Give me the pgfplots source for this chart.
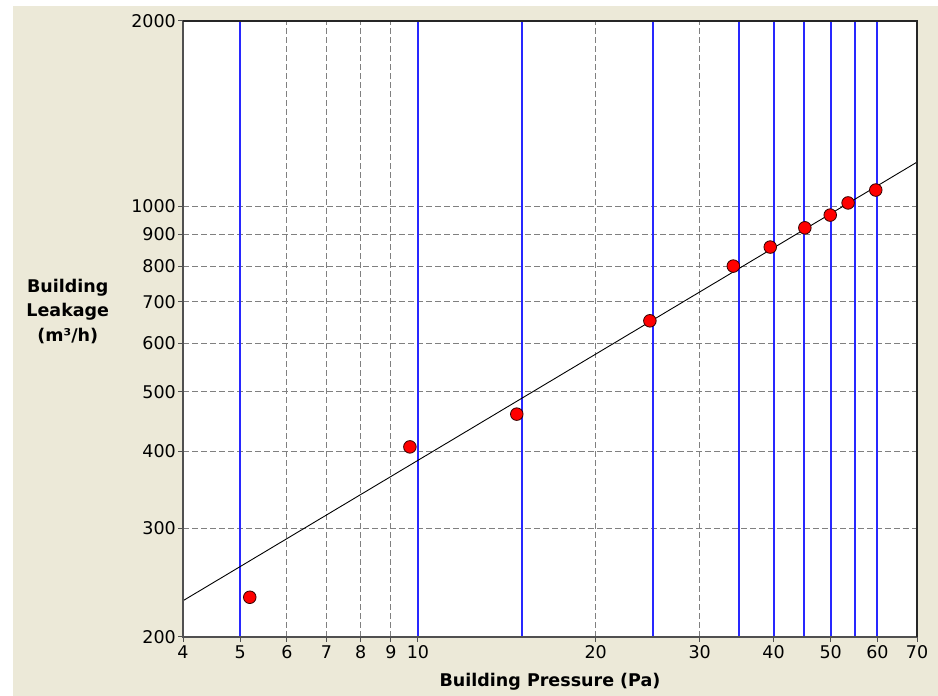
\documentclass[border=0pt]{standalone}
\usepackage{pgfplots}
\pgfplotsset{compat=1.18}
\usepackage{fontspec}
\setmainfont{DejaVu Sans}
\definecolor{bg}{RGB}{236,233,216}
\definecolor{gridgray}{RGB}{128,128,128}
\definecolor{lineblue}{RGB}{40,40,255}
\definecolor{axisgray}{RGB}{80,80,80}
\begin{document}
\begin{tikzpicture}
\fill[white] (0,0) rectangle (938pt,696pt);
\fill[bg] (13pt,0) rectangle (938pt,690pt);
\useasboundingbox (0,0) rectangle (938pt,696pt);
\begin{axis}[
  at={(183pt,59pt)}, anchor=south west,
  scale only axis, width=734pt, height=616pt,
  xmode=log, ymode=log,
  xmin=4, xmax=70, ymin=200, ymax=2000,
  clip=false,
  xtick={4,5,6,7,8,9,10,20,30,40,50,60,70},
  xticklabels={4,5,6,7,8,9,10,20,30,40,50,60,70},
  ytick={200,300,400,500,600,700,800,900,1000,2000},
  yticklabels={200,300,400,500,600,700,800,900,1000,2000},
  minor xtick={}, minor ytick={},
  tick align=outside, major tick length=5pt,
  xtick pos=bottom, ytick pos=left,
  tick style={axisgray, line width=1pt},
  ticklabel style={font=\fontsize{17.5}{20}\selectfont, text=black},
  yticklabel style={inner sep=2pt},
  ymajorgrids=true, xmajorgrids=false,
  major grid style={gridgray, dash pattern=on 6pt off 3pt, line width=1pt},
  axis line style={draw=none},
  axis background/.style={fill=white},
  xlabel={Building Pressure (Pa)},
  every axis x label/.style={at={(rel axis cs:0.5,0)}, yshift=-44.5pt, anchor=center,
    font=\bfseries\fontsize{17.5}{20}\selectfont},
  ylabel={Building\\Leakage\\(m³/h)},
  every axis y label/.style={at={(rel axis cs:-0.157,0.529)}, anchor=center, align=center,
    font=\bfseries\fontsize{17.5}{24.5}\selectfont},
]
% dashed vertical grid lines (those not covered by blue lines)
\pgfplotsinvokeforeach{6,7,8,9,20,30}{
  \addplot[draw=gridgray, dash pattern=on 6pt off 3pt, line width=1pt, forget plot]
    coordinates {(#1,200) (#1,2000)};
}
% blue vertical lines
\pgfplotsinvokeforeach{5,10,15,25,35,40,45,50,55,60}{
  \addplot[draw=lineblue, line width=2pt, forget plot] coordinates {(#1,200) (#1,2000)};
}
% fit line
\addplot[draw=black, line width=0.9pt] coordinates {(4,229) (70,1180)};
% measured points
\addplot[only marks, mark=*, mark size=6.3pt,
  mark options={fill=red, draw=black!80!red, line width=0.8pt}]
  coordinates {
  (5.19,232) (9.69,407) (14.7,460) (24.7,652) (34.2,800)
  (39.5,859) (45.2,923) (49.9,968) (53.5,1013) (59.6,1063)
  };
% frame
\draw[axisgray, line width=2pt] (rel axis cs:0,1) -- (rel axis cs:0,0) -- (rel axis cs:1,0);
\draw[black!85, line width=1.4pt] (rel axis cs:0,1) -- (rel axis cs:1,1) -- (rel axis cs:1,0);
\end{axis}
\end{tikzpicture}
\end{document}
